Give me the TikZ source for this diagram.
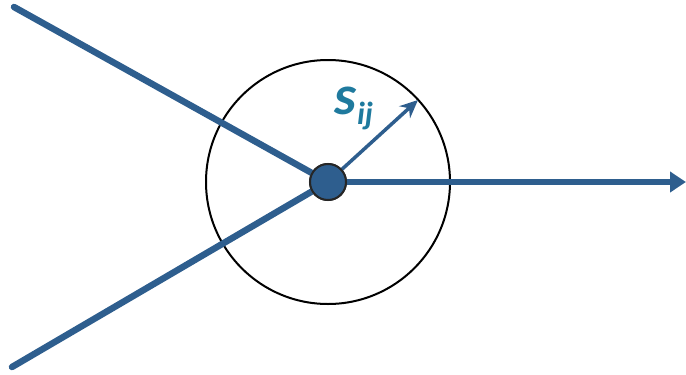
\documentclass[tikz,border=0pt]{standalone}
\usepackage{fontspec}
\setmainfont{Carlito}
\usetikzlibrary{arrows.meta}
\definecolor{lineblue}{HTML}{2E5E8E}
\definecolor{textblue}{HTML}{1F7A9E}
\begin{document}
\begin{tikzpicture}[x=1pt,y=-1pt,
  thickline/.style={draw=lineblue,line width=6.5pt},
  thinarrow/.style={draw=lineblue,line width=3.5pt,-{Stealth[length=18pt,width=16pt]}}]
\useasboundingbox (0,0) rectangle (686,375);
\node[draw=black,line width=2pt,circle,minimum size=244pt,inner sep=0pt] (ring) at (328,182) {};
\coordinate (tl) at (14,7);
\coordinate (bl) at (12,367);
\coordinate (tip) at (686,182);
\coordinate (stip) at (418,100);
\node[circle,fill=lineblue,draw=black!85,line width=2pt,minimum size=36pt,inner sep=0pt] (dot) at (328,182) {};
\draw[thickline,line cap=round] (tl) -- (dot.center);
\draw[thickline,line cap=round] (bl) -- (dot.center);
\draw[thickline,-{Triangle[length=16pt,width=20pt]}] (dot.center) -- (tip);
\draw[thinarrow] (dot.center) -- (stip);
\node[circle,fill=lineblue,draw=black!85,line width=2pt,minimum size=36pt,inner sep=0pt] at (328,182) {};
\node[text=textblue,font=\bfseries\itshape\fontsize{56}{58}\selectfont,inner sep=0pt] (lbl) at (354,108) {s\raisebox{-10pt}{\fontsize{32}{34}\selectfont ij}};
\end{tikzpicture}
\end{document}
